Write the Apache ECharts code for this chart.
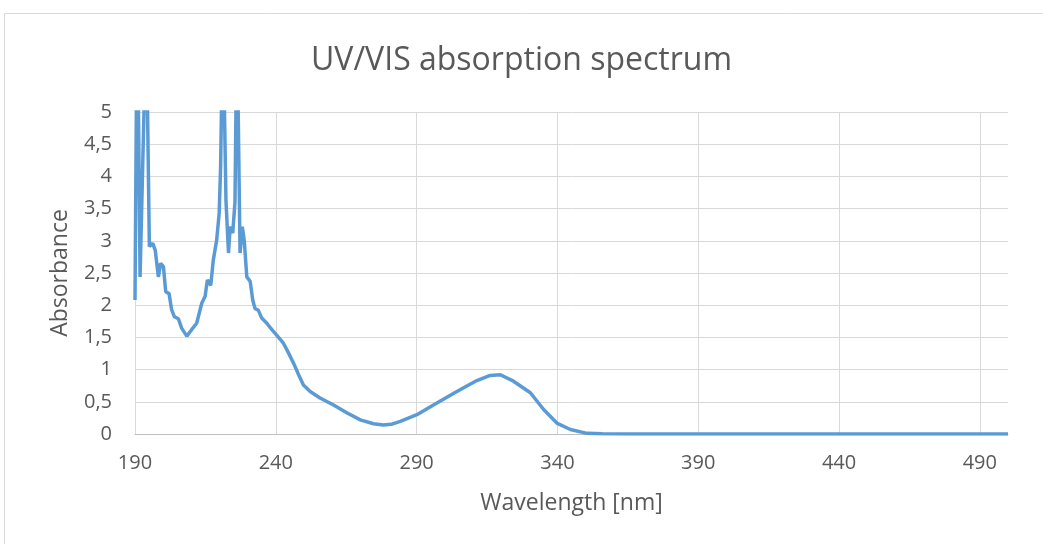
<!DOCTYPE html>
<html lang="en">
<head>
    <meta charset="UTF-8">
    <title>UV/VIS absorption spectrum</title>
    <script src="https://cdn.jsdelivr.net/npm/echarts@6/dist/echarts.min.js"></script>
</head>
<style>
    html, body {
        margin: 0;
        background-color: #FFFFFF;
    }
</style>
<body>
<div id="main" style="width: 1043px;height:544px;"></div>
<script>
    // wavelength [nm] and absorbance (peaks above 5 are clipped by the axis)
    var wavelength = [190.0, 190.8, 191.8, 194.0, 195.1, 196.3, 197.2, 198.3, 199.1, 200.1,
        200.9, 202.1, 203.0, 204.0, 205.4, 206.6, 208.4, 210.1, 211.9, 213.7,
        214.9, 215.7, 216.9, 217.8, 219.0, 219.9, 220.4, 221.2, 222.3, 223.2,
        223.8, 224.7, 225.5, 226.2, 227.3, 228.1, 228.8, 229.7, 230.9, 231.8,
        232.6, 233.8, 235.0, 236.8, 238.6, 240.0, 242.7, 244.5, 246.3, 248.1,
        249.8, 252.2, 255.7, 260.5, 265.2, 270.0, 274.7, 278.2, 281.0, 284.2,
        290.1, 297.2, 304.3, 311.4, 316.1, 319.7, 324.4, 330.4, 335.1, 339.8,
        344.6, 350.5, 356, 365, 380, 400, 420, 440, 460, 480, 500];
    var absorbance = [2.08, 7.0, 2.44, 6.5, 2.91, 2.96, 2.85, 2.44, 2.65, 2.60,
        2.21, 2.18, 1.93, 1.82, 1.79, 1.64, 1.52, 1.62, 1.72, 2.03,
        2.14, 2.39, 2.31, 2.70, 3.01, 3.43, 4.15, 6.5, 3.63, 2.81,
        3.22, 3.12, 3.60, 6.5, 2.81, 3.22, 3.00, 2.44, 2.37, 2.08,
        1.95, 1.92, 1.80, 1.72, 1.62, 1.55, 1.41, 1.26, 1.10, 0.92,
        0.76, 0.66, 0.56, 0.45, 0.33, 0.22, 0.16, 0.14, 0.15, 0.195,
        0.30, 0.48, 0.66, 0.83, 0.91, 0.92, 0.82, 0.64, 0.38, 0.17,
        0.07, 0.01, 0.003, 0.0, 0.0, 0.0, 0.0, 0.0, 0.0, 0.0, 0.0];

    var points = [];
    for (var i = 0; i < wavelength.length; i++) {
        points.push([wavelength[i], absorbance[i]]);
    }

    var myChart = echarts.init(document.getElementById('main'));
    var txt = '#595959';
    var option = {
        backgroundColor: '#FFFFFF',
        animation: false,
        graphic: [{
            type: 'rect',
            shape: {x: 4.5, y: 13.5, width: 1045, height: 540},
            style: {fill: 'none', stroke: '#D9D9D9', lineWidth: 1}
        }],
        title: {
            text: 'UV/VIS absorption spectrum',
            left: 'center',
            top: 40,
            textStyle: {
                color: txt,
                fontFamily: 'Open Sans',
                fontWeight: 'normal',
                fontSize: 32
            }
        },
        grid: {left: 135, right: 35, top: 112, bottom: 110},
        xAxis: {
            type: 'value',
            min: 190,
            max: 500,
            interval: 50,
            name: 'Wavelength [nm]',
            nameLocation: 'middle',
            nameGap: 58,
            nameTextStyle: {color: txt, fontFamily: 'Open Sans', fontSize: 23},
            axisLine: {onZero: false, lineStyle: {color: '#BFBFBF', width: 1}},
            axisTick: {show: false},
            axisLabel: {color: txt, fontFamily: 'Open Sans', fontSize: 20, margin: 19, showMaxLabel: false},
            splitLine: {show: true, showMaxLine: false, lineStyle: {color: '#D9D9D9', width: 1}}
        },
        yAxis: {
            type: 'value',
            min: 0,
            max: 5,
            interval: 0.5,
            name: 'Absorbance',
            nameLocation: 'middle',
            nameGap: 63,
            nameTextStyle: {color: txt, fontFamily: 'Open Sans', fontSize: 23},
            axisLine: {show: false},
            axisTick: {show: false},
            axisLabel: {
                color: txt, fontFamily: 'Open Sans', fontSize: 20, margin: 23,
                formatter: function (v) { return String(v).replace('.', ','); }
            },
            splitLine: {show: true, lineStyle: {color: '#D9D9D9', width: 1}}
        },
        series: [{
            name: 'Absorbance',
            type: 'line',
            data: points,
            showSymbol: false,
            clip: true,
            lineStyle: {color: '#5B9BD5', width: 3.5},
            itemStyle: {color: '#5B9BD5'}
        }]
    };
    myChart.setOption(option);
</script>
</body>
</html>
